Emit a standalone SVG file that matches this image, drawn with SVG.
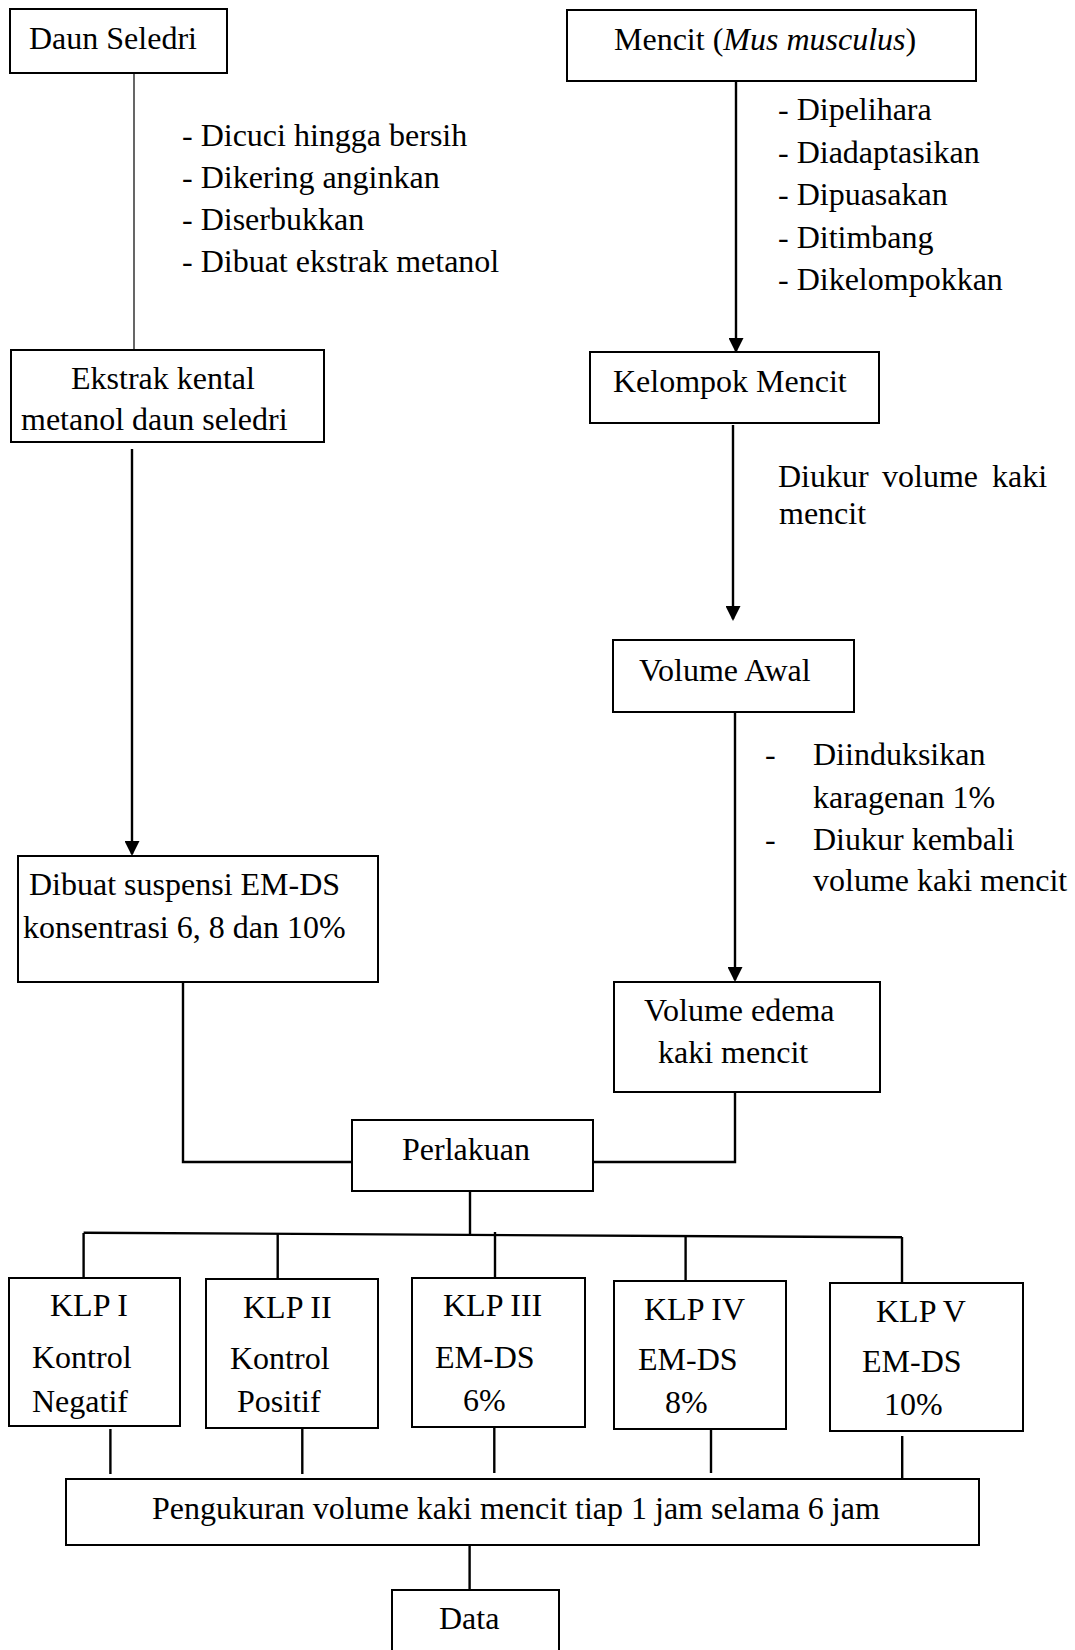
<svg xmlns="http://www.w3.org/2000/svg" width="1075" height="1650" viewBox="0 0 1075 1650">
  <style>
    .box { fill: #fff; stroke: #000; stroke-width: 2; }
    .t { font-family: "Liberation Serif", "Times New Roman", serif; font-size: 32px; fill: #000; }
    .ln { fill: none; stroke: #000; stroke-width: 2.4; }
    .thin { fill: none; stroke: #000; stroke-width: 1.2; }
  </style>
  <defs>
    <marker id="arrow" viewBox="0 0 15 15" markerWidth="15" markerHeight="15" refX="13" refY="7.5" orient="auto" markerUnits="userSpaceOnUse">
      <path d="M0,0 L15,7.5 L0,15 z" fill="#000"/>
    </marker>
  </defs>
  <rect width="1075" height="1650" fill="#fff"/>

  <!-- connectors -->
  <g id="connectors">
    <line class="thin" x1="134" y1="73" x2="134" y2="350"/>
    <line class="ln" x1="132" y1="449" x2="132" y2="854" marker-end="url(#arrow)"/>
    <line class="ln" x1="736" y1="82" x2="736" y2="351" marker-end="url(#arrow)"/>
    <line class="ln" x1="733" y1="425" x2="733" y2="619" marker-end="url(#arrow)"/>
    <line class="ln" x1="735" y1="712" x2="735" y2="980" marker-end="url(#arrow)"/>
    <polyline class="ln" points="183,982 183,1162 352,1162"/>
    <polyline class="ln" points="735,1092 735,1162 593,1162"/>
    <line class="ln" x1="470" y1="1191" x2="470" y2="1234"/>
    <line class="ln" x1="83.6" y1="1232.7" x2="902" y2="1237.3"/>
    <line class="ln" x1="83.6" y1="1233" x2="83.6" y2="1278"/>
    <line class="ln" x1="277.7" y1="1234" x2="277.7" y2="1279"/>
    <line class="ln" x1="495" y1="1232" x2="495" y2="1278"/>
    <line class="ln" x1="685.6" y1="1236" x2="685.6" y2="1281"/>
    <line class="ln" x1="902" y1="1237" x2="902" y2="1283"/>
    <line class="ln" x1="110.4" y1="1429" x2="110.4" y2="1474"/>
    <line class="ln" x1="302.3" y1="1429" x2="302.3" y2="1474"/>
    <line class="ln" x1="494.3" y1="1428" x2="494.3" y2="1473"/>
    <line class="ln" x1="711" y1="1429" x2="711" y2="1473"/>
    <line class="ln" x1="902.2" y1="1436" x2="902.2" y2="1479"/>
    <line class="ln" x1="469.6" y1="1545" x2="469.6" y2="1590"/>
  </g>

  <!-- side notes -->
  <g id="notes-seledri">
    <text class="t" x="182" y="146">- Dicuci hingga bersih</text>
    <text class="t" x="182" y="188">- Dikering anginkan</text>
    <text class="t" x="182" y="230">- Diserbukkan</text>
    <text class="t" x="182" y="272">- Dibuat ekstrak metanol</text>
  </g>
  <g id="notes-mencit">
    <text class="t" x="778" y="120">- Dipelihara</text>
    <text class="t" x="778" y="163">- Diadaptasikan</text>
    <text class="t" x="778" y="205">- Dipuasakan</text>
    <text class="t" x="778" y="248">- Ditimbang</text>
    <text class="t" x="778" y="290">- Dikelompokkan</text>
  </g>
  <g id="notes-ukur">
    <text class="t" y="487"><tspan x="778">Diukur</tspan><tspan x="882">volume</tspan><tspan x="992">kaki</tspan></text>
    <text class="t" x="779" y="524">mencit</text>
  </g>
  <g id="notes-induksi">
    <text class="t" x="765" y="765">-</text>
    <text class="t" x="813" y="765">Diinduksikan</text>
    <text class="t" x="813" y="808">karagenan 1%</text>
    <text class="t" x="765" y="850">-</text>
    <text class="t" x="813" y="850">Diukur kembali</text>
    <text class="t" x="813" y="891">volume kaki mencit</text>
  </g>

  <!-- nodes -->
  <g id="daun-seledri">
    <rect class="box" x="10" y="9" width="217" height="64"/>
    <text class="t" x="29" y="49">Daun Seledri</text>
  </g>
  <g id="ekstrak">
    <rect class="box" x="11" y="350" width="313" height="92"/>
    <text class="t" x="71" y="389">Ekstrak kental</text>
    <text class="t" x="21" y="430">metanol daun seledri</text>
  </g>
  <g id="suspensi">
    <rect class="box" x="18" y="856" width="360" height="126"/>
    <text class="t" x="29" y="895">Dibuat suspensi EM-DS</text>
    <text class="t" x="23" y="938">konsentrasi 6, 8 dan 10%</text>
  </g>
  <g id="mencit">
    <rect class="box" x="567" y="10" width="409" height="71"/>
    <text class="t" x="614" y="50">Mencit (<tspan font-style="italic">Mus musculus</tspan>)</text>
  </g>
  <g id="kelompok-mencit">
    <rect class="box" x="590" y="352" width="289" height="71"/>
    <text class="t" x="613" y="392">Kelompok Mencit</text>
  </g>
  <g id="volume-awal">
    <rect class="box" x="613" y="640" width="241" height="72"/>
    <text class="t" x="639" y="681">Volume Awal</text>
  </g>
  <g id="volume-edema">
    <rect class="box" x="614" y="982" width="266" height="110"/>
    <text class="t" x="644" y="1021">Volume edema</text>
    <text class="t" x="658" y="1063">kaki mencit</text>
  </g>
  <g id="perlakuan">
    <rect class="box" x="352" y="1120" width="241" height="71"/>
    <text class="t" x="402" y="1160">Perlakuan</text>
  </g>
  <g id="klp-1">
    <rect class="box" x="9" y="1278" width="171" height="148"/>
    <text class="t" x="50" y="1316">KLP I</text>
    <text class="t" x="32" y="1368">Kontrol</text>
    <text class="t" x="32" y="1412">Negatif</text>
  </g>
  <g id="klp-2">
    <rect class="box" x="206" y="1279" width="172" height="149"/>
    <text class="t" x="243" y="1318">KLP II</text>
    <text class="t" x="230" y="1369">Kontrol</text>
    <text class="t" x="237" y="1412">Positif</text>
  </g>
  <g id="klp-3">
    <rect class="box" x="412" y="1278" width="173" height="149"/>
    <text class="t" x="443" y="1316">KLP III</text>
    <text class="t" x="435" y="1368">EM-DS</text>
    <text class="t" x="463" y="1411">6%</text>
  </g>
  <g id="klp-4">
    <rect class="box" x="614" y="1281" width="172" height="148"/>
    <text class="t" x="644" y="1320">KLP IV</text>
    <text class="t" x="638" y="1370">EM-DS</text>
    <text class="t" x="665" y="1413">8%</text>
  </g>
  <g id="klp-5">
    <rect class="box" x="830" y="1283" width="193" height="148"/>
    <text class="t" x="876" y="1322">KLP V</text>
    <text class="t" x="862" y="1372">EM-DS</text>
    <text class="t" x="884" y="1415">10%</text>
  </g>
  <g id="pengukuran">
    <rect class="box" x="66" y="1479" width="913" height="66"/>
    <text class="t" x="152" y="1519">Pengukuran volume kaki mencit tiap 1 jam selama 6 jam</text>
  </g>
  <g id="data">
    <rect class="box" x="392" y="1590" width="167" height="70"/>
    <text class="t" x="439" y="1629">Data</text>
  </g>
</svg>
